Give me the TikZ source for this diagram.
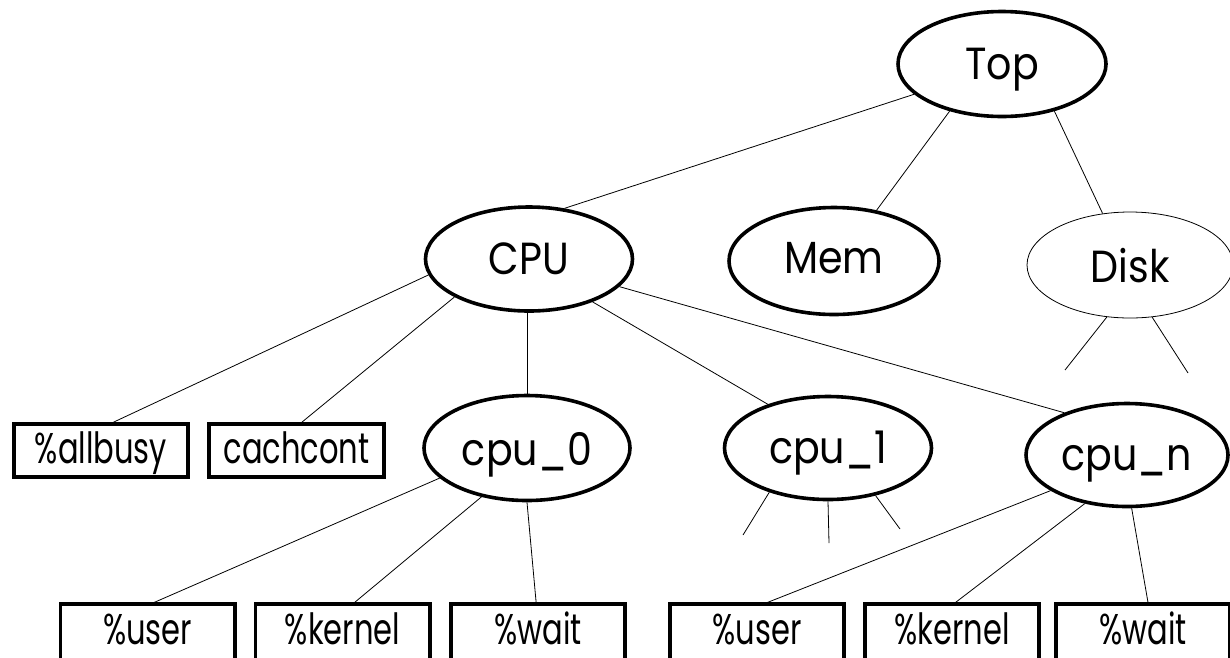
\documentclass[tikz,border=0pt]{standalone}
\usepackage{fontspec}
\setmainfont{Poppins}[FakeStretch=0.88]
\newfontfamily\boxfont{Poppins}[FakeStretch=0.71]
\usetikzlibrary{shapes.geometric,calc}
\begin{document}
\begin{tikzpicture}[x=1pt,y=-1pt,
  lab/.style={font=\fontsize{45}{47}\selectfont, inner sep=0pt},
  blab/.style={font=\boxfont\fontsize{43}{45}\selectfont, inner sep=0pt},
  el/.style={lab, ellipse, draw, line width=3.6pt, minimum width=208pt, minimum height=105pt, text height=30pt, text depth=0pt},
  thinel/.style={lab, ellipse, draw, line width=0.8pt, minimum width=206pt, minimum height=106pt, text height=34pt, text depth=0pt},
  boxa/.style={blab, rectangle, draw, line width=3.6pt, minimum width=174pt, minimum height=53pt, text height=26pt, text depth=0pt},
  boxb/.style={blab, rectangle, minimum width=174pt, minimum height=48pt, text height=32pt, text depth=0pt},
  boxline/.style={line width=3.6pt},
  link/.style={line width=0.8pt}]
\useasboundingbox (0,0) rectangle (1230,657);
\clip (0,0) rectangle (1230,657);
\fill[white] (0,0) rectangle (1230,657);

% ellipses
\node[el] (top) at (1002,64) {Top};
\node[el, minimum width=207pt, minimum height=104pt] (cpu) at (529,259) {CPU};
\node[el, minimum width=210pt, minimum height=107pt, text height=24pt] (mem) at (834,261) {Mem};
\node[thinel] (disk) at (1130,265) {Disk};
\node[el, minimum width=206pt, text height=34pt] (cpu0) at (527,448) {cpu\_0};
\node[el, minimum width=207pt, minimum height=103pt] (cpu1) at (828,448) {cpu\_1};
\node[el, minimum width=202pt, minimum height=103pt] (cpun) at (1127,455) {cpu\_n};

% boxes
\node[boxa] (allbusy) at (101,450.5) {\%allbusy};
\node[boxa, minimum width=175pt] (cachcont) at (296.5,450.5) {cachcont};
\node[boxb] (userL) at (147.5,628) {\%user};
\node[boxb] (kernelL) at (342.5,628) {\%kernel};
\node[boxb] (waitL) at (538,628) {\%wait};
\node[boxb] (userR) at (757,628) {\%user};
\node[boxb] (kernelR) at (952,628) {\%kernel};
\node[boxb] (waitR) at (1143,628) {\%wait};
% bottom boxes run past the lower edge of the picture: three sides drawn
\foreach \b in {userL,kernelL,waitL,userR,kernelR,waitR}
  \draw[boxline] ([yshift=-20pt]\b.south west) |- (\b.north east) -- ([yshift=-20pt]\b.south east);

% free ends
\coordinate (d1) at (1065,370);
\coordinate (d2) at (1188,373);
\coordinate (c1a) at (743,535);
\coordinate (c1b) at (829,543);
\coordinate (c1c) at (900,529);

% connectors
\draw[link] (top.199) -- (cpu.55);
\draw[link] (top.222) -- (mem.50);
\draw[link] (top.318) -- (disk.118);
\draw[link] (disk.246.5) -- (d1);
\draw[link] (disk.293.5) -- (d2);
\draw[link] (cpu.189) -- ($(allbusy.north west)!0.57!(allbusy.north east)$);
\draw[link] (cpu.207) -- ($(cachcont.north west)!0.53!(cachcont.north east)$);
\draw[link] (cpu.south -| cpu0.north) -- (cpu0.north);
\draw[link] (cpu.326.7) -- (cpu1.144.5);
\draw[link] (cpu.343) -- (cpun.146);
\draw[link] (cpu0.199.6) -- ($(userL.north west)!0.52!(userL.north east)$);
\draw[link] (cpu0.227) -- ($(kernelL.north west)!0.56!(kernelL.north east)$);
\draw[link] (cpu0.270) -- ($(waitL.north west)!0.49!(waitL.north east)$);
\draw[link] (cpu1.217) -- (c1a);
\draw[link] (cpu1.270) -- (c1b);
\draw[link] (cpu1.315.6) -- (c1c);
\draw[link] (cpun.205) -- ($(userR.north west)!0.54!(userR.north east)$);
\draw[link] (cpun.229) -- ($(kernelR.north west)!0.51!(kernelR.north east)$);
\draw[link] (cpun.275) -- ($(waitR.north west)!0.53!(waitR.north east)$);
\end{tikzpicture}
\end{document}
